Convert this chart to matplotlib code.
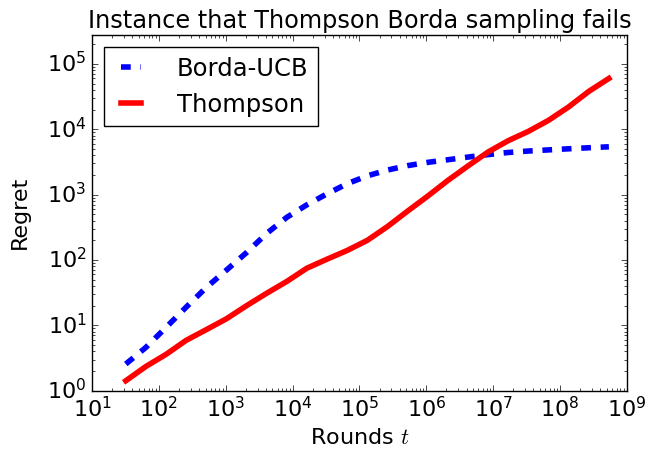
import matplotlib
matplotlib.use("Agg")
import matplotlib.pyplot as plt

plt.style.use("classic")

rounds = [32, 64, 128, 256, 512, 1024, 2048, 4096, 8192, 16384, 32768,
          65536, 131072, 262144, 524288, 1048576, 2097152, 4194304,
          8388608, 16777216, 33554432, 67108864, 134217728, 268435456,
          536870912]

borda_ucb = [2.56, 4.6, 9.3, 19, 38, 70, 130, 255, 450, 700, 1030, 1470,
             1940, 2380, 2780, 3120, 3420, 3760, 4100, 4420, 4650, 4840,
             5030, 5220, 5400]

thompson = [1.42, 2.35, 3.6, 5.9, 8.6, 12.6, 20, 31, 47, 75, 103, 140, 200,
            325, 560, 950, 1650, 2750, 4500, 6700, 9300, 13700, 22000,
            38000, 60000]

plt.rcParams["mathtext.fontset"] = "cm"

fig = plt.figure(figsize=(6.47, 4.51), dpi=100, facecolor="white")
ax = fig.add_axes([0.1422, 0.1337, 0.8268, 0.7893])

ax.loglog(rounds, borda_ucb, "b--", lw=4, dashes=(7, 7), label="Borda-UCB")
ax.loglog(rounds, thompson, "r-", lw=4, label="Thompson")

ax.set_xlim(10, 1e9)
ax.set_ylim(1, 2.8e5)
ax.set_xlabel("Rounds $t$", fontsize=16)
ax.set_ylabel("Regret", fontsize=16, labelpad=12)
ax.set_title("Instance that Thompson Borda sampling fails", fontsize=17.3)
ax.tick_params(labelsize=16)
ax.legend(loc="upper left", fontsize=17.5, handlelength=1.4, handletextpad=1.2)

fig.savefig("out.png", dpi=100, facecolor="white")
